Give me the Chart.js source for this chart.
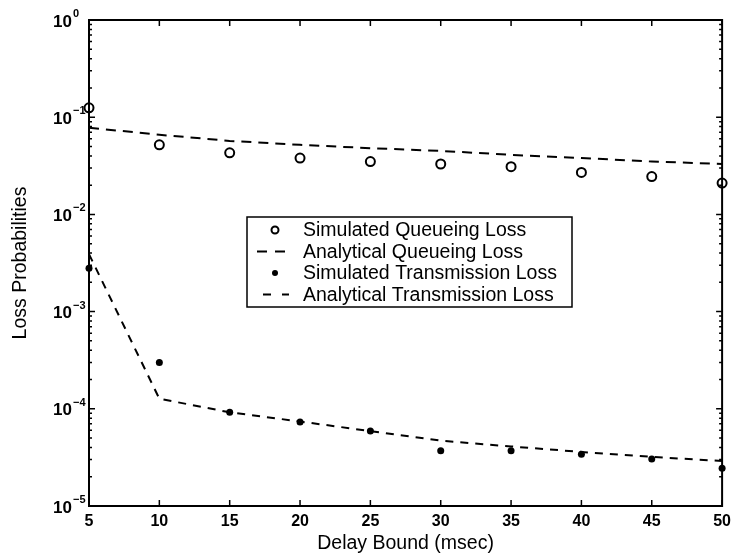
<!DOCTYPE html>
<html><head><meta charset="utf-8">
<script src="https://cdn.jsdelivr.net/npm/chart.js@4"></script>
<style>html,body{margin:0;padding:0;background:#fff;overflow:hidden}canvas{display:block}</style>
</head><body>
<canvas id="c" width="737" height="556"></canvas>
<script>
const delayBound = [5, 10, 15, 20, 25, 30, 35, 40, 45, 50];
const simQueueing = [0.125, 0.052, 0.043, 0.038, 0.035, 0.033, 0.031, 0.027, 0.0245, 0.021];
const anaQueueing = [0.078, 0.066, 0.057, 0.052, 0.048, 0.045, 0.041, 0.038, 0.035, 0.033];
const simTransmission = [0.0028, 3.0e-4, 9.2e-5, 7.3e-5, 5.9e-5, 3.7e-5, 3.7e-5, 3.4e-5, 3.05e-5, 2.45e-5];
const anaTransmission = [0.0039, 1.27e-4, 9.2e-5, 7.4e-5, 5.9e-5, 4.7e-5, 4.1e-5, 3.6e-5, 3.2e-5, 2.9e-5];
const yTickExponents = [0, -1, -2, -3, -4, -5];
const xTickValues = [5, 10, 15, 20, 25, 30, 35, 40, 45, 50];
const seriesNames = ['Simulated Queueing Loss', 'Analytical Queueing Loss', 'Simulated Transmission Loss', 'Analytical Transmission Loss'];
const xTitle = 'Delay Bound (msec)';
const yTitle = 'Loss Probabilities';

const FONT = "'Liberation Sans', Arial, Helvetica, sans-serif";
const pts = arr => delayBound.map((x, i) => ({x, y: arr[i]}));

const framePlugin = {
  id: 'frame',
  afterDatasetsDraw(chart) {
    const {ctx, chartArea: a, scales: {x, y}} = chart;
    ctx.save();
    ctx.strokeStyle = '#000';
    ctx.lineWidth = 2;
    ctx.strokeRect(a.left, a.top, a.right - a.left, a.bottom - a.top);
    ctx.lineWidth = 1.5;
    ctx.beginPath();
    xTickValues.forEach(v => {
      const px = x.getPixelForValue(v);
      ctx.moveTo(px, a.bottom); ctx.lineTo(px, a.bottom - 6);
      ctx.moveTo(px, a.top); ctx.lineTo(px, a.top + 6);
    });
    yTickExponents.forEach(e => {
      const py = y.getPixelForValue(Math.pow(10, e));
      ctx.moveTo(a.left, py); ctx.lineTo(a.left + 6, py);
      ctx.moveTo(a.right, py); ctx.lineTo(a.right - 6, py);
      if (e > -5) {
        for (let m = 2; m <= 9; m++) {
          const pm = y.getPixelForValue(m * Math.pow(10, e - 1));
          ctx.moveTo(a.left, pm); ctx.lineTo(a.left + 3, pm);
          ctx.moveTo(a.right, pm); ctx.lineTo(a.right - 3, pm);
        }
      }
    });
    ctx.stroke();
    ctx.restore();
  },
  afterDraw(chart) {
    const {ctx, scales: {y}} = chart;
    ctx.save();
    ctx.fillStyle = '#000';
    // y tick labels 10^e
    yTickExponents.forEach(e => {
      const py = y.getPixelForValue(Math.pow(10, e));
      ctx.font = 'bold 17px ' + FONT;
      ctx.textAlign = 'right';
      ctx.textBaseline = 'middle';
      ctx.fillText('10', 72, py + 2);
      ctx.font = 'bold 11px ' + FONT;
      ctx.textAlign = 'left';
      ctx.fillText(e === 0 ? '0' : '\u2212' + (-e), 73, py - 6);
    });
    // legend
    const bx = 247, by = 217, bw = 325, bh = 90;
    ctx.fillStyle = '#fff';
    ctx.fillRect(bx, by, bw, bh);
    ctx.strokeStyle = '#000';
    ctx.lineWidth = 1.5;
    ctx.strokeRect(bx, by, bw, bh);
    const rows = [230, 251.5, 273, 294.5];
    ctx.fillStyle = '#000';
    ctx.font = '19.5px ' + FONT;
    ctx.textAlign = 'left';
    ctx.textBaseline = 'middle';
    seriesNames.forEach((n, i) => ctx.fillText(n, 303, rows[i] + 1));
    // symbols
    ctx.lineWidth = 2;
    ctx.beginPath(); ctx.arc(275, rows[0], 3.5, 0, Math.PI * 2); ctx.stroke();
    ctx.beginPath(); ctx.moveTo(257, rows[1]); ctx.lineTo(267, rows[1]); ctx.moveTo(275, rows[1]); ctx.lineTo(285, rows[1]); ctx.stroke();
    ctx.beginPath(); ctx.arc(275, rows[2], 3, 0, Math.PI * 2); ctx.fill();
    ctx.beginPath(); ctx.moveTo(263, rows[3]); ctx.lineTo(271, rows[3]); ctx.moveTo(282, rows[3]); ctx.lineTo(289, rows[3]); ctx.stroke();
    ctx.restore();
  }
};

new Chart(document.getElementById('c'), {
  type: 'line',
  data: {
    datasets: [
      {label: seriesNames[0], data: pts(simQueueing), showLine: false, pointStyle: 'circle', pointRadius: 4.5,
       pointBorderWidth: 2, pointBorderColor: '#000', pointBackgroundColor: 'rgba(0,0,0,0)', clip: false},
      {label: seriesNames[1], data: pts(anaQueueing), borderColor: '#000', borderWidth: 2, borderDash: [10, 7],
       pointRadius: 0, tension: 0, fill: false, clip: false},
      {label: seriesNames[2], data: pts(simTransmission), showLine: false, pointStyle: 'circle', pointRadius: 3.5,
       pointBorderWidth: 0, pointBackgroundColor: '#000', clip: false},
      {label: seriesNames[3], data: pts(anaTransmission), borderColor: '#000', borderWidth: 2, borderDash: [8, 7],
       pointRadius: 0, tension: 0, fill: false, clip: false}
    ]
  },
  options: {
    responsive: false,
    devicePixelRatio: 1,
    animation: false,
    events: [],
    layout: {padding: {left: 0, right: 10, top: 20, bottom: 0}},
    plugins: {legend: {display: false}, tooltip: {enabled: false}},
    scales: {
      x: {
        type: 'linear', min: 5, max: 50,
        grid: {display: false, drawTicks: false},
        border: {display: false},
        ticks: {stepSize: 5, color: '#000', font: {family: FONT, size: 16, weight: 'bold'}, padding: 6, maxRotation: 0},
        title: {display: true, text: xTitle, color: '#000', font: {family: FONT, size: 19.5}, padding: {top: 0, bottom: 1}},
        afterFit(s) { s.height = 50; }
      },
      y: {
        type: 'logarithmic', min: 1e-5, max: 1,
        grid: {display: false, drawTicks: false},
        border: {display: false},
        ticks: {display: false},
        title: {display: true, text: yTitle, color: '#000', font: {family: FONT, size: 19.5}, padding: {top: 9, bottom: 0}},
        afterFit(s) { s.width = 89; }
      }
    }
  },
  plugins: [framePlugin]
});
</script>
</body></html>
